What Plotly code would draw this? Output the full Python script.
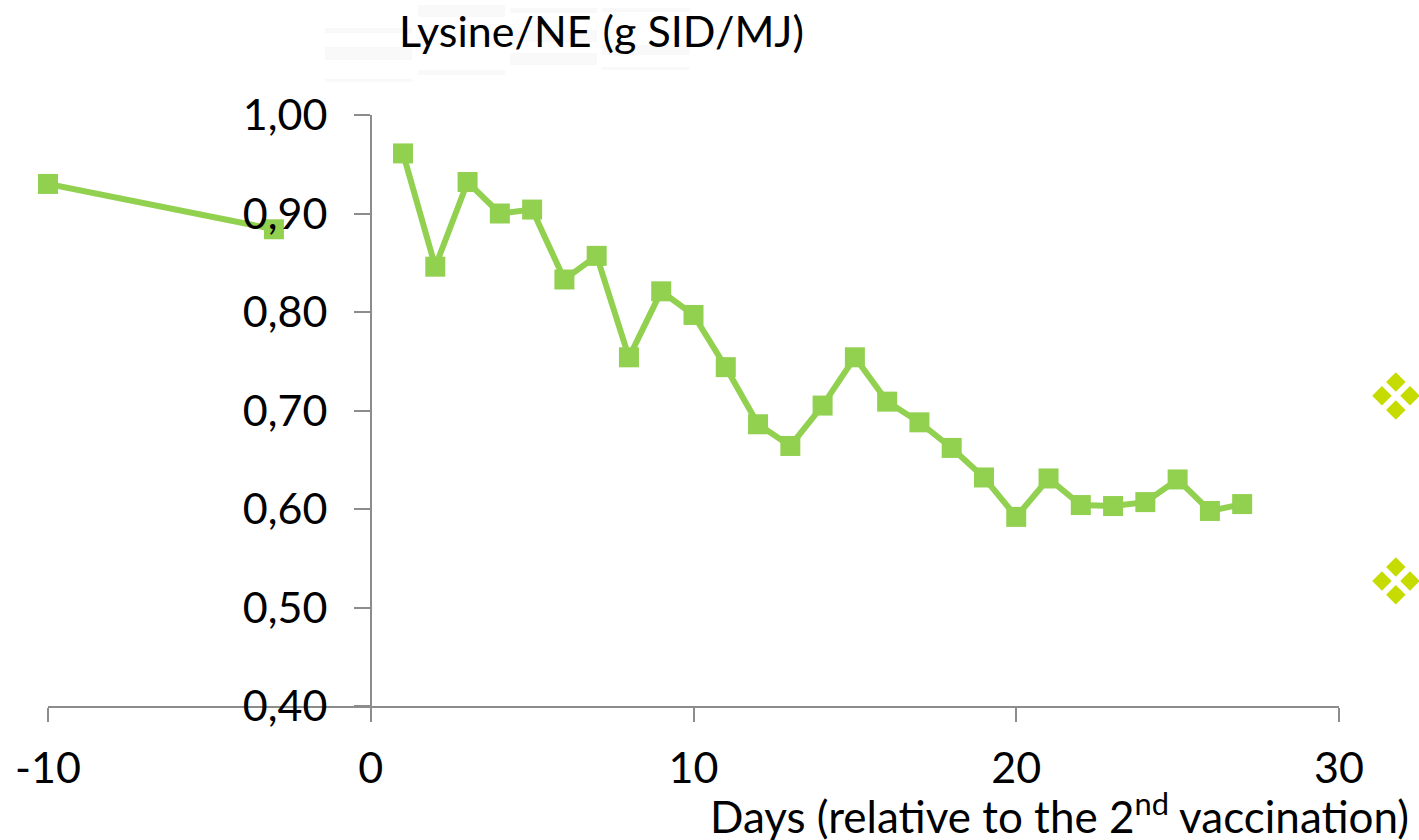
import plotly.graph_objects as go

days = [-10, -3, None, 1, 2, 3, 4, 5, 6, 7, 8, 9, 10, 11, 12, 13, 14, 15, 16, 17, 18, 19, 20, 21, 22, 23, 24, 25, 26, 27]
lysine = [0.930, 0.884, None, 0.961, 0.846, 0.932, 0.900, 0.904, 0.833, 0.857, 0.754, 0.821, 0.797, 0.744, 0.686, 0.664,
          0.705, 0.754, 0.709, 0.688, 0.662, 0.632, 0.592, 0.631, 0.604, 0.603, 0.607, 0.630, 0.598, 0.605]
bullet_x = [31.76, 31.33, 32.2, 31.76, 31.76, 31.33, 32.2, 31.76]
bullet_y = [0.729, 0.715, 0.715, 0.7005, 0.541, 0.527, 0.527, 0.513]
x_ticks = [-10, 0, 10, 20, 30]
x_labels = ["-10", "0", "10", "20", "30"]
y_ticks = [0.4, 0.5, 0.6, 0.7, 0.8, 0.9, 1.0]
y_labels = ["0,40", "0,50", "0,60", "0,70", "0,80", "0,90", "1,00"]
title_text = "Lysine/NE (g SID/MJ)"
xlabel_text = "Days (relative to the 2<sup>nd</sup> vaccination)"

FONT = "Lato"
W, H = 1419, 840
L, R, T, B = 48, 1339, 115, 706
px = lambda v: (v - L) / (W - L)
py = lambda v: (B - v) / (B - T)
unit = (R - L) / 40

smudges = [(325, 412, 28, 33), (325, 412, 47, 60), (325, 412, 79, 82), (418, 505, 5, 17), (418, 505, 70, 75),
           (510, 597, 8, 13), (510, 597, 30, 42), (510, 597, 53, 65), (602, 690, 8, 12), (602, 690, 45, 55), (602, 690, 67, 70)]
shapes = [dict(type="rect", xref="paper", yref="paper", x0=px(a), x1=px(b), y0=py(d), y1=py(c),
               fillcolor="#f9f9f9", line_width=0, layer="below") for a, b, c, d in smudges]

fig = go.Figure()
fig.add_trace(go.Scatter(x=days, y=lysine, mode="lines+markers", connectgaps=False,
                         line=dict(color="#92D050", width=6),
                         marker=dict(symbol="square", size=20, color="#92D050"), cliponaxis=False))
fig.add_trace(go.Scatter(x=bullet_x, y=bullet_y, mode="markers", xaxis="x2", yaxis="y2",
                         marker=dict(symbol="diamond", size=15, color="#C6DC00"), cliponaxis=False))

fig.update_layout(
    width=W, height=H, showlegend=False, plot_bgcolor="rgba(0,0,0,0)", paper_bgcolor="white",
    margin=dict(l=L, r=0, t=T, b=H - B, autoexpand=False),
    font=dict(family=FONT, size=43, color="black"),
    shapes=shapes,
    xaxis=dict(domain=[0, px(R)], range=[-10, 30], tickvals=x_ticks, ticktext=x_labels, showgrid=False, zeroline=False,
               showline=True, linecolor="#8c8c8c", linewidth=2, ticks="outside", ticklen=14, tickwidth=2,
               tickcolor="#8c8c8c", anchor="y", ticklabelstandoff=9),
    xaxis2=dict(domain=[0, 1], range=[-10, -10 + (W - L) / unit], visible=False, anchor="y2"),
    yaxis=dict(range=[0.4, 1.0], tickvals=y_ticks, ticktext=y_labels, showgrid=False, zeroline=False, showline=True,
               linecolor="#8c8c8c", linewidth=2, ticks="outside", ticklen=16, tickwidth=2, tickcolor="#8c8c8c",
               anchor="free", position=px(371), ticklabelstandoff=18),
    yaxis2=dict(domain=[0, 1], range=[0.4, 1.0], visible=False, anchor="x2"),
    annotations=[
        dict(text=title_text, xref="paper", yref="paper", x=px(397), y=py(30), xanchor="left", yanchor="middle",
             showarrow=False, font=dict(family=FONT, size=43)),
        dict(text=xlabel_text, xref="paper", yref="paper", x=px(708), y=py(813), xanchor="left", yanchor="middle",
             showarrow=False, font=dict(family=FONT, size=44)),
    ],
)
fig.write_html("out.html", config=dict(displayModeBar=False),
               post_script="document.body.style.margin='0';document.body.style.overflow='hidden';")
